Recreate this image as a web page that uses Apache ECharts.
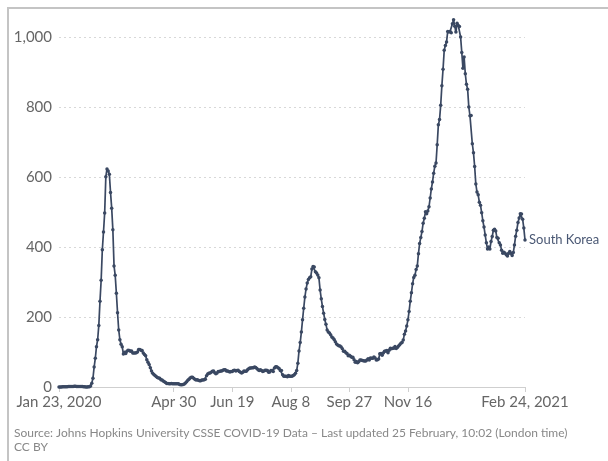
<!DOCTYPE html>
<html>
<head>
<meta charset="utf-8">
<script src="https://cdn.jsdelivr.net/npm/echarts@6/dist/echarts.min.js"></script>
<style>
  html, body { margin: 0; padding: 0; background: #fff; }
  #chart { width: 608px; height: 461px; }
</style>
</head>
<body>
<div id="chart"></div>
<script>
// 7-day rolling average of daily new confirmed cases, South Korea, one value per day
const jan2020 = [0, 0.3, 0.3, 0.4, 0.6, 0.6, 0.6, 1, 1.4];
const feb2020 = [1.4, 1.7, 1.6, 1.7, 2.1, 2.3, 1.7, 1.6, 1.4, 1.7, 1.7, 1.3, 0.7, 0.4, 0.1, 0.3, 0.4, 0.4, 2.6, 10.7, 25, 57, 82, 115, 135, 176, 245, 305, 392];
const mar2020 = [443, 497, 601, 623, 617, 608, 556, 511, 449, 346, 319, 268, 212, 163, 135, 122, 115, 94, 99, 96, 102, 105, 104, 102, 103, 97, 97, 97, 98, 100, 107];
const apr2020 = [107, 105, 104, 97, 93, 89, 78, 71, 64, 55, 46, 39, 36, 33, 30, 27, 26, 25, 21, 20, 17, 15, 13, 10, 10, 9.6, 9, 10, 9.6, 9];
const may2020 = [9.4, 9, 9, 9, 7.4, 6.4, 6.4, 7, 8.6, 11.6, 15, 19, 22, 26, 28, 28, 25, 22, 20, 21, 19, 18, 18, 20, 20, 21, 22, 32, 37, 39, 40];
const jun2020 = [42, 45, 46, 41, 38, 40, 44, 44, 46, 46, 48, 49, 49, 46, 46, 44, 43, 44, 44, 47, 48, 46, 47, 48, 44, 42, 40, 42, 46, 45];
const jul2020 = [45, 49, 52, 54, 54, 55, 55, 57, 56, 53, 49, 47, 49, 47, 44, 46, 48, 48, 47, 42, 43, 47, 47, 44, 54, 58, 58, 55, 53, 47, 47];
const aug2020 = [35, 31, 31, 31, 29, 33, 31, 31, 31, 33, 35, 39, 47, 68, 103, 127, 157, 192, 225, 257, 280, 297, 307, 312, 315, 337, 344, 343, 329, 326, 320];
const sep2020 = [312, 277, 252, 230, 211, 193, 179, 163, 157, 154, 149, 143, 140, 136, 129, 123, 120, 118, 117, 114, 109, 102, 102, 98, 96, 89, 91, 88, 85, 85];
const oct2020 = [78, 71, 73, 69, 72, 77, 77, 76, 75, 74, 74, 77, 81, 77, 83, 82, 82, 86, 83, 77, 78, 80, 95, 96, 91, 97, 102, 103, 104, 98, 105];
const nov2020 = [111, 109, 111, 111, 116, 110, 113, 117, 121, 125, 127, 134, 151, 160, 174, 192, 216, 245, 269, 295, 313, 319, 336, 346, 381, 410, 427, 444, 468, 482];
const dec2020 = [501, 495, 503, 515, 540, 566, 586, 611, 631, 640, 692, 749, 764, 805, 861, 908, 962, 976, 986, 1016, 1014, 1016, 1012, 1038, 1049, 1031, 1014, 1039, 1033, 1030, 1000];
const jan2021 = [956, 911, 943, 895, 865, 851, 800, 775, 776, 695, 669, 630, 580, 557, 549, 528, 519, 498, 475, 457, 434, 412, 394, 400, 394, 416, 430, 448, 451, 446, 427];
const feb2021 = [425, 412, 406, 391, 382, 385, 382, 378, 374, 382, 387, 382, 376, 384, 406, 431, 448, 470, 483, 495, 494, 479, 454, 420];

const startDate = "2020-01-23";
const tickDates = ["2020-01-23", "2020-04-30", "2020-06-19", "2020-08-08", "2020-09-27", "2020-11-16", "2021-02-24"];
const tickLabels = ["Jan 23, 2020", "Apr 30", "Jun 19", "Aug 8", "Sep 27", "Nov 16", "Feb 24, 2021"];
const yTicks = [0, 200, 400, 600, 800, 1000];
const seriesName = "South Korea";
const sourceText = "Source: Johns Hopkins University CSSE COVID-19 Data \u2013 Last updated 25 February, 10:02 (London time)";
const licenceText = "CC BY";

const cases = [].concat(jan2020, feb2020, mar2020, apr2020, may2020, jun2020,
  jul2020, aug2020, sep2020, oct2020, nov2020, dec2020, jan2021, feb2021);

// one category per day
const days = [];
const t0 = new Date(startDate + "T00:00:00Z").getTime();
for (let i = 0; i < cases.length; i++) {
  days.push(new Date(t0 + i * 86400000).toISOString().slice(0, 10));
}

const lineColor = "#3a4862";
const font = "Lato, 'Noto Sans', sans-serif";

var myChart = echarts.init(document.getElementById("chart"), null, { renderer: "canvas" });
myChart.setOption({
  animation: false,
  backgroundColor: "#fff",
  grid: { left: 59, right: 83, top: 37, bottom: 74 },
  xAxis: {
    type: "category",
    data: days,
    boundaryGap: false,
    axisLine: { lineStyle: { color: "#cfcfcf", width: 1 } },
    axisTick: {
      show: true,
      length: 5,
      lineStyle: { color: "#cfcfcf" },
      interval: (i, v) => tickDates.includes(v)
    },
    axisLabel: {
      interval: (i, v) => tickDates.includes(v),
      formatter: (v) => tickLabels[tickDates.indexOf(v)],
      color: "#666",
      fontSize: 15,
      fontFamily: font,
      margin: 8,
      showMinLabel: true,
      showMaxLabel: true
    },
    splitLine: { show: false }
  },
  yAxis: {
    type: "value",
    min: yTicks[0],
    max: yTicks[yTicks.length - 1],
    interval: 200,
    axisLine: { show: false },
    axisTick: { show: false },
    axisLabel: {
      color: "#666",
      fontSize: 15,
      fontFamily: font,
      margin: 7,
      formatter: (v) => v.toLocaleString("en-US")
    },
    splitLine: { lineStyle: { color: "#d8d8d8", type: [2, 3], width: 1 } }
  },
  series: [
    {
      name: seriesName,
      type: "line",
      data: cases,
      clip: false,
      showSymbol: true,
      symbol: "circle",
      symbolSize: 3.5,
      showAllSymbol: true,
      lineStyle: { color: lineColor, width: 1.7 },
      itemStyle: { color: lineColor },
      endLabel: {
        show: true,
        formatter: seriesName,
        color: "#4a5874",
        fontSize: 13,
        fontFamily: font,
        distance: 4
      }
    }
  ],
  graphic: [
    {
      type: "polyline",
      shape: { points: [[8, 461], [8, 8], [608, 8]] },
      style: { stroke: "#c4c4c4", lineWidth: 2, fill: null }
    },
    {
      type: "text",
      left: 14,
      top: 427,
      style: { text: sourceText, fill: "#888", fontSize: 12, fontFamily: font }
    },
    {
      type: "text",
      left: 14,
      top: 441,
      style: { text: licenceText, fill: "#888", fontSize: 12, fontFamily: font }
    }
  ]
});
</script>
</body>
</html>
